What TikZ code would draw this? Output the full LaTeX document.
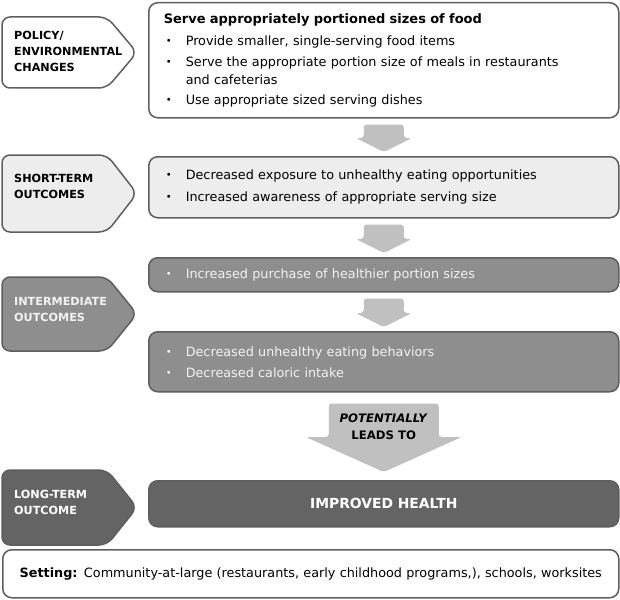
\documentclass[tikz,border=0pt]{standalone}
\usepackage{fontspec}
\setmainfont{DejaVu Sans}
\usetikzlibrary{calc}
\definecolor{lmLine}{HTML}{5E5E5E}
\definecolor{lmLight}{HTML}{EDEDED}
\definecolor{lmMid}{HTML}{8E8E8E}
\definecolor{lmDark}{HTML}{646464}
\definecolor{lmArrow}{HTML}{C0C0C0}
\definecolor{lmPale}{HTML}{F2F2F2}
\tikzset{
  outbox/.style={
    draw=lmLine, line width=1.5pt, rounded corners=9pt, anchor=north west,
    minimum width=470pt, text width=440pt, inner xsep=15pt, inner ysep=3pt,
    align=left, font=\fontsize{12.8}{18}\selectfont
  },
  lightbox/.style={outbox, fill=lmLight},
  midbox/.style={outbox, fill=lmMid, text=lmPale},
  darkbox/.style={outbox, fill=lmDark, text=white, align=center,
    font=\bfseries\fontsize{13.9}{16}\selectfont},
  tagshape/.style={draw=lmLine, line width=1.5pt, rounded corners=8pt},
  tagtext/.style={anchor=west, align=left, inner sep=0pt,
    font=\bfseries\fontsize{11.2}{16}\selectfont},
  flowarrow/.style={fill=lmArrow, rounded corners=3pt},
  leadtext/.style={align=center, inner sep=0pt,
    font=\bfseries\fontsize{11.7}{17}\selectfont}
}
% bullet with hanging text
\newcommand\itm{\hspace*{1pt}\makebox[8pt][c]{\raisebox{1pt}{\fontsize{10}{10}\selectfont\textbullet}}\hspace*{13pt}}
% pointed label: top y, bottom y, fill
\newcommand\tagpath[3]{%
  \path[tagshape, fill=#3] (2,#1) -- (107,#1) -- (137,{(#1+#2)/2})
    -- (107,#2) -- (2,#2) -- cycle;}
% small block arrow between two boxes
\newcommand\steparrow[2]{%
  \path[flowarrow] let \p1=(#1.south), \p2=(#2.north) in
    (\x1-20pt,\y1-6pt) -- (\x1+20pt,\y1-6pt) -- (\x1+20pt,\y2+18pt)
    -- (\x1+28pt,\y2+18pt) -- (\x1,\y2+4pt) -- (\x1-28pt,\y2+18pt)
    -- (\x1-20pt,\y2+18pt) -- cycle;}
\begin{document}
\begin{tikzpicture}[x=1pt, y=-1pt]
  \useasboundingbox (0,0) rectangle (620,599);

  % labels on the left
  \tagpath{17}{88}{white}
  \node[tagtext] (policy) at (14,51) {POLICY/\\ENVIRONMENTAL\\CHANGES};
  \tagpath{155}{232}{lmLight}
  \node[tagtext] (short) at (14,186) {SHORT-TERM\\OUTCOMES};
  \tagpath{277}{351}{lmMid}
  \node[tagtext, text=lmPale] (inter) at (14,309) {INTERMEDIATE\\OUTCOMES};
  \tagpath{470}{545}{lmDark}
  \node[tagtext, text=white] (long) at (14,502) {LONG-TERM\\OUTCOME};

  % boxes
  \node[outbox, fill=white, minimum height=115pt] (serve) at (148,2)
    {{\bfseries\fontsize{13}{18}\selectfont Serve appropriately portioned sizes of food}\\[4pt]
     \itm Provide smaller, single-serving food items\\[3pt]
     \itm Serve the appropriate portion size of meals in restaurants\\
     \hspace*{22pt}and cafeterias\\[2pt]
     \itm Use appropriate sized serving dishes};
  \node[lightbox, minimum height=61pt] (expose) at (148,156)
    {\itm Decreased exposure to unhealthy eating opportunities\\[4pt]
     \itm Increased awareness of appropriate serving size};
  \node[midbox, minimum height=34pt] (purchase) at (148,257)
    {\itm Increased purchase of healthier portion sizes};
  \node[midbox, minimum height=60pt] (behave) at (148,331)
    {\itm Decreased unhealthy eating behaviors\\[3pt]
     \itm Decreased caloric intake};
  \node[darkbox, minimum height=46pt] (health) at (148,480) {IMPROVED HEALTH};
  \node[outbox, fill=white, minimum width=616pt, text width=590pt,
        inner xsep=13pt, minimum height=48pt, align=center] (setting) at (2,549)
    {\textbf{Setting:} Community-at-large (restaurants, early childhood programs,), schools, worksites};

  % arrows
  \steparrow{serve}{expose}
  \steparrow{expose}{purchase}
  \steparrow{purchase}{behave}
  \path[flowarrow] let \p1=(behave.south), \p2=(health.north) in
    (\x1-55pt,\y1-11pt) -- (\x1+55pt,\y1-11pt) -- (\x1+55pt,\y2+43pt)
    -- (\x1+78pt,\y2+43pt) -- (\x1,\y2+8pt) -- (\x1-78pt,\y2+43pt)
    -- (\x1-55pt,\y2+43pt) -- cycle;
  \node[leadtext] (leads) at ([yshift=-34pt]behave.south)
    {\textit{POTENTIALLY}\\LEADS TO};
\end{tikzpicture}
\end{document}
